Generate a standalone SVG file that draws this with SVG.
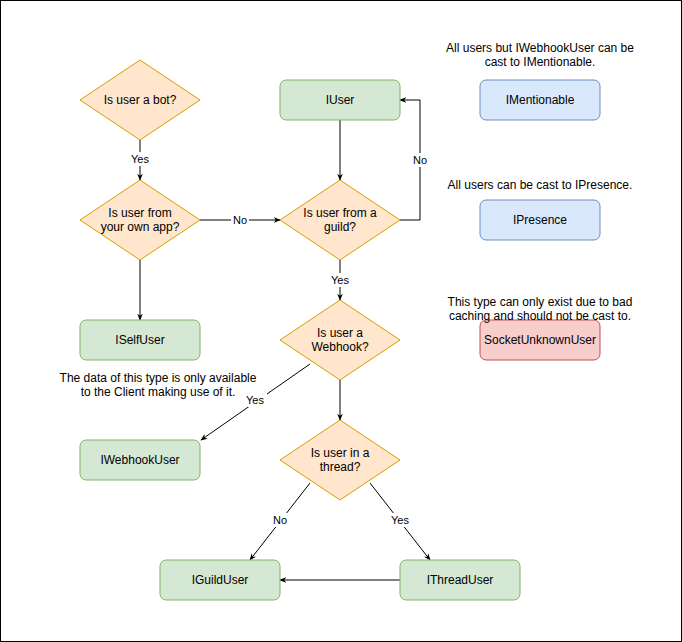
<svg xmlns="http://www.w3.org/2000/svg" width="682" height="642" viewBox="0 0 682 642">
<defs>
<marker id="arr" viewBox="0 0 10 10" refX="9" refY="5" markerWidth="7" markerHeight="7" orient="auto"><path d="M0,1 L10,5 L0,9 L3,5 Z" fill="#000"/></marker>
<style>
text{font-family:"Liberation Sans",Arial,sans-serif;font-size:12px;fill:#000;text-anchor:middle;dominant-baseline:central}
.g{fill:#d5e8d4;stroke:#82b366}
.d{fill:#ffe6cc;stroke:#d79b00}
.b{fill:#dae8fc;stroke:#6c8ebf}
.r{fill:#f8cecc;stroke:#b85450}
.c{fill:none;stroke:#000;stroke-width:1;marker-end:url(#arr)}
.lb{fill:#fff}
.lt{font-size:11px}
</style>
</defs>
<rect x="0.5" y="0.5" width="681" height="641" fill="#fff" stroke="#000"/>
<g id="connectors">
<path class="c" d="M140,140 L140,180"/>
<path class="c" d="M200,220 L280,220"/>
<path class="c" d="M140,260 L140,320"/>
<path class="c" d="M340,120 L340,180"/>
<path class="c" d="M400,220 L420,220 L420,100 L400,100"/>
<path class="c" d="M340,260 L340,300"/>
<path class="c" d="M310,364 L201,440"/>
<path class="c" d="M340,380 L340,420"/>
<path class="c" d="M310,483 L250,560"/>
<path class="c" d="M370,483 L430,560"/>
<path class="c" d="M400,580 L280,580"/>
<rect class="lb" x="128" y="152" width="24" height="14"/><text class="lt" x="140" y="159">Yes</text>
<rect class="lb" x="231" y="213" width="18" height="14"/><text class="lt" x="240" y="220">No</text>
<rect class="lb" x="412" y="153" width="18" height="14"/><text class="lt" x="420" y="160">No</text>
<rect class="lb" x="328" y="273" width="24" height="14"/><text class="lt" x="340" y="280">Yes</text>
<rect class="lb" x="243" y="393" width="24" height="14"/><text class="lt" x="255" y="400">Yes</text>
<rect class="lb" x="271" y="513" width="18" height="14"/><text class="lt" x="280" y="520">No</text>
<rect class="lb" x="388" y="513" width="24" height="14"/><text class="lt" x="400" y="520">Yes</text>
</g>
<g id="bot"><path class="d" d="M140,60 L200,100 L140,140 L80,100 Z"/><text x="140" y="100">Is user a bot?</text></g>
<g id="ownapp"><path class="d" d="M140,180 L200,220 L140,260 L80,220 Z"/><text x="140" y="213">Is user from</text><text x="140" y="227">your own app?</text></g>
<g id="guild"><path class="d" d="M340,180 L400,220 L340,260 L280,220 Z"/><text x="340" y="213">Is user from a</text><text x="340" y="227">guild?</text></g>
<g id="webhook"><path class="d" d="M340,300 L400,340 L340,380 L280,340 Z"/><text x="340" y="333">Is user a</text><text x="340" y="347">Webhook?</text></g>
<g id="thread"><path class="d" d="M340,420 L400,460 L340,500 L280,460 Z"/><text x="340" y="453">Is user in a</text><text x="340" y="467">thread?</text></g>
<g id="IUser"><rect class="g" x="280" y="80" width="120" height="40" rx="6"/><text x="340" y="100">IUser</text></g>
<g id="ISelfUser"><rect class="g" x="80" y="320" width="120" height="40" rx="6"/><text x="140" y="340">ISelfUser</text></g>
<g id="IWebhookUser"><rect class="g" x="80" y="440" width="120" height="40" rx="6"/><text x="140" y="460">IWebhookUser</text></g>
<g id="IGuildUser"><rect class="g" x="160" y="560" width="120" height="40" rx="6"/><text x="220" y="580">IGuildUser</text></g>
<g id="IThreadUser"><rect class="g" x="400" y="560" width="120" height="40" rx="6"/><text x="460" y="580">IThreadUser</text></g>
<g id="IMentionable"><rect class="b" x="480" y="80" width="120" height="40" rx="6"/><text x="540" y="100">IMentionable</text></g>
<g id="IPresence"><rect class="b" x="480" y="200" width="120" height="40" rx="6"/><text x="540" y="220">IPresence</text></g>
<g id="SocketUnknownUser"><rect class="r" x="480" y="320" width="120" height="40" rx="6"/><text x="540" y="340">SocketUnknownUser</text></g>
<g id="notes">
<text x="540" y="48">All users but IWebhookUser can be</text>
<text x="540" y="62">cast to IMentionable.</text>
<text x="540" y="185">All users can be cast to IPresence.</text>
<text x="540" y="302">This type can only exist due to bad</text>
<text x="540" y="316">caching and should not be cast to.</text>
<text x="158" y="378">The data of this type is only available</text>
<text x="158" y="392">to the Client making use of it.</text>
</g>
</svg>
